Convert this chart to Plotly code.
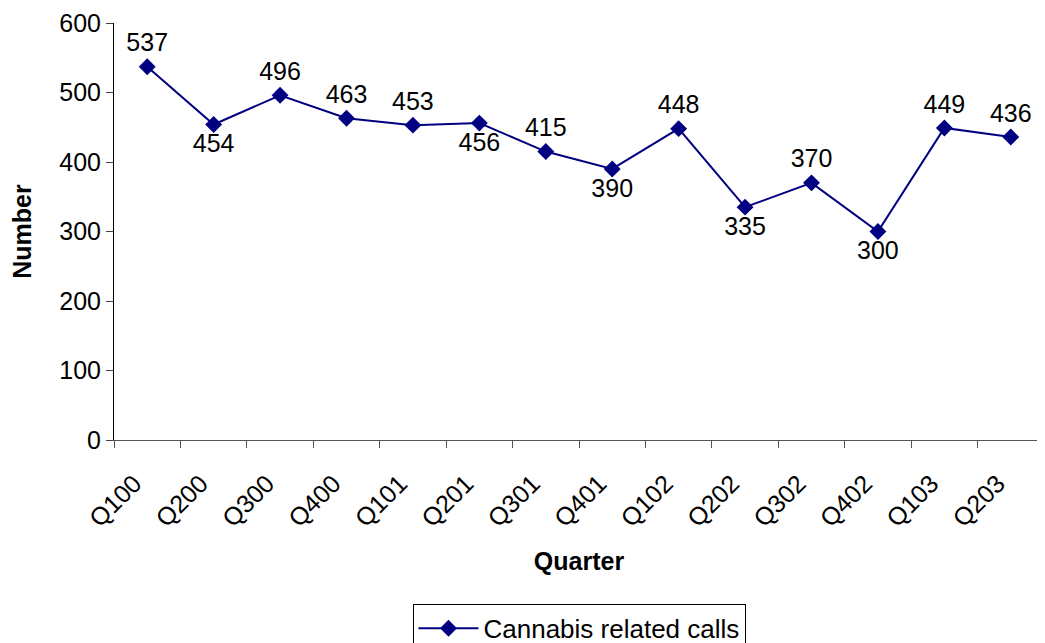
import plotly.graph_objects as go

# quarterly counts
quarters = ["Q100", "Q200", "Q300", "Q400", "Q101", "Q201", "Q301",
            "Q401", "Q102", "Q202", "Q302", "Q402", "Q103", "Q203"]
calls = [537, 454, 496, 463, 453, 456, 415, 390, 448, 335, 370, 300, 449, 436]
label_pos = ["top center", "bottom center", "top center", "top center", "top center",
             "bottom center", "top center", "bottom center", "top center",
             "bottom center", "top center", "bottom center", "top center", "top center"]

navy = "#000080"

fig = go.Figure()
fig.add_trace(go.Scatter(
    x=quarters, y=calls,
    mode="lines+markers+text",
    name="Cannabis related calls",
    line=dict(color=navy, width=2),
    marker=dict(symbol="diamond", size=13, color=navy),
    text=[str(v) for v in calls],
    textposition=label_pos,
    textfont=dict(size=25, color="black"),
))

# page body adds an 8px offset, margins compensate
fig.update_layout(
    width=1045, height=643,
    margin=dict(l=106, r=9, t=15, b=211, autoexpand=False),
    plot_bgcolor="white", paper_bgcolor="white",
    font=dict(family="Liberation Sans, Arial, sans-serif", size=25, color="black"),
    showlegend=True,
    legend=dict(
        orientation="h", x=0.5, xanchor="center", y=-0.393, yanchor="top",
        bordercolor="black", borderwidth=1, font=dict(size=26),
        itemwidth=60,
    ),
    xaxis=dict(
        title=dict(text="<b>Quarter</b>", font=dict(size=25), standoff=21),
        type="category", range=[-0.5, 13.5], tickangle=-45,
        tickson="boundaries", ticks="outside", ticklen=7, tickcolor="#555",
        ticklabelstandoff=18, ticklabelshift=-13, tickfont=dict(size=25),
        showline=True, linecolor="#555", linewidth=1, showgrid=False,
        automargin=False,
    ),
    yaxis=dict(
        title=dict(text="<b>Number</b>", font=dict(size=25), standoff=27),
        range=[0, 600], dtick=100, ticks="outside", ticklen=7,
        tickfont=dict(size=25), ticklabeloverflow="allow",
        showline=True, linecolor="black", linewidth=1, showgrid=False,
        zeroline=False, automargin=False,
    ),
)

fig.write_html("out.html")
